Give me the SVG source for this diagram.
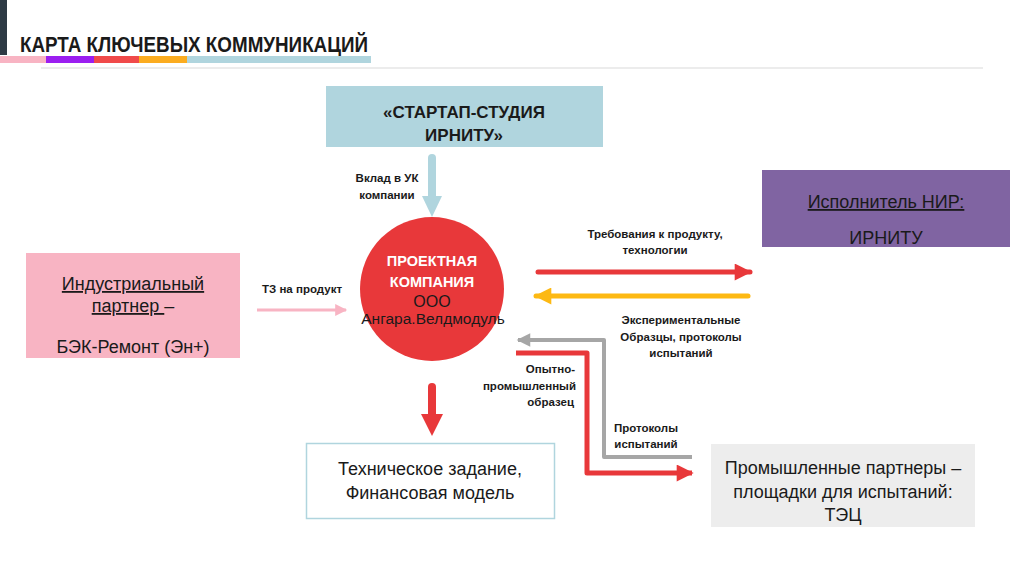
<svg xmlns="http://www.w3.org/2000/svg" width="1024" height="574" viewBox="0 0 1024 574">
<defs>
<style>
text{font-family:"Liberation Sans",Arial,sans-serif;fill:#1a1a1a}
.box{font-size:18px}
.lbl{font-size:11.5px;font-weight:bold}
.u{text-decoration:underline}
</style>
<marker id="mRed" viewBox="0 0 10 10" refX="9" refY="5" markerWidth="4" markerHeight="3.4" orient="auto" markerUnits="strokeWidth"><path d="M0,0 L10,5 L0,10 z" fill="#e8383a"/></marker>
<marker id="mYel" viewBox="0 0 10 10" refX="9" refY="5" markerWidth="4" markerHeight="3.4" orient="auto" markerUnits="strokeWidth"><path d="M0,0 L10,5 L0,10 z" fill="#fdb913"/></marker>
<marker id="mGray" viewBox="0 0 10 10" refX="9" refY="5" markerWidth="4" markerHeight="3.4" orient="auto" markerUnits="strokeWidth"><path d="M0,0 L10,5 L0,10 z" fill="#a6a6a6"/></marker>
<marker id="mPink" viewBox="0 0 10 10" refX="9" refY="5" markerWidth="4.5" markerHeight="4" orient="auto" markerUnits="strokeWidth"><path d="M0,0 L10,5 L0,10 z" fill="#f8b4c3"/></marker>
</defs>
<rect width="1024" height="574" fill="#ffffff"/>

<g id="header">
<rect x="0" y="0" width="7" height="55" fill="#2e3a44"/>
<text x="20" y="52" font-size="22" font-weight="bold" textLength="348" lengthAdjust="spacingAndGlyphs" fill="#111">КАРТА КЛЮЧЕВЫХ КОММУНИКАЦИЙ</text>
<rect x="0" y="56" width="46" height="7" fill="#f8b4c3"/>
<rect x="46" y="56" width="48" height="7" fill="#9b1ef0"/>
<rect x="94" y="56" width="45" height="7" fill="#f04a4a"/>
<rect x="139" y="56" width="48" height="7" fill="#fbac20"/>
<rect x="187" y="56" width="184" height="7" fill="#b0d5de"/>
<line x1="41" y1="68" x2="983" y2="68" stroke="#d9d9d9" stroke-width="1.2"/>
</g>

<g id="connectors">
<line x1="432" y1="158" x2="432" y2="198" stroke="#b0d5de" stroke-width="8" stroke-linecap="round"/>
<polygon points="422,196 442,196 432,217" fill="#b0d5de"/>
<line x1="257" y1="310" x2="346" y2="310" stroke="#f8b4c3" stroke-width="3" marker-end="url(#mPink)"/>
<line x1="538" y1="272" x2="750" y2="272" stroke="#e8383a" stroke-width="5" stroke-linecap="round" marker-end="url(#mRed)"/>
<line x1="748" y1="296" x2="536" y2="296" stroke="#fdb913" stroke-width="5" stroke-linecap="round" marker-end="url(#mYel)"/>
<path d="M692,457 H604 V340 H518" fill="none" stroke="#a6a6a6" stroke-width="4" stroke-linejoin="round" marker-end="url(#mGray)"/>
<path d="M516,353 H587 V473 H692" fill="none" stroke="#e8383a" stroke-width="5" stroke-linejoin="round" marker-end="url(#mRed)"/>
<line x1="432" y1="387" x2="432" y2="418" stroke="#e8383a" stroke-width="8" stroke-linecap="round"/>
<polygon points="421,414 443,414 432,436" fill="#e8383a"/>
<text class="lbl" x="387" y="182" text-anchor="middle">Вклад в УК</text>
<text class="lbl" x="387" y="199" text-anchor="middle">компании</text>
<text class="lbl" x="302" y="293" text-anchor="middle">ТЗ на продукт</text>
<text class="lbl" x="655" y="238" text-anchor="middle">Требования к продукту,</text>
<text class="lbl" x="655" y="254" text-anchor="middle">технологии</text>
<text class="lbl" x="681" y="324" text-anchor="middle">Экспериментальные</text>
<text class="lbl" x="681" y="341" text-anchor="middle">Образцы, протоколы</text>
<text class="lbl" x="681" y="357" text-anchor="middle">испытаний</text>
<text class="lbl" x="575" y="373" text-anchor="end">Опытно-</text>
<text class="lbl" x="576" y="390" text-anchor="end">промышленный</text>
<text class="lbl" x="574" y="406" text-anchor="end">образец</text>
<text class="lbl" x="646" y="432" text-anchor="middle">Протоколы</text>
<text class="lbl" x="646" y="448" text-anchor="middle">испытаний</text>
</g>

<g id="studio">
<rect x="326" y="86" width="277" height="61" fill="#b0d5de"/>
<text x="464" y="118" font-size="17" font-weight="bold" text-anchor="middle">«СТАРТАП-СТУДИЯ</text>
<text x="464" y="141" font-size="17" font-weight="bold" text-anchor="middle">ИРНИТУ»</text>
</g>

<g id="company">
<circle cx="432" cy="289" r="72" fill="#e8383a"/>
<text x="432" y="266" font-size="14.5" font-weight="bold" text-anchor="middle" style="fill:#fff">ПРОЕКТНАЯ</text>
<text x="432" y="287" font-size="14.5" font-weight="bold" text-anchor="middle" style="fill:#fff">КОМПАНИЯ</text>
<text x="432" y="307" font-size="16" text-anchor="middle">ООО</text>
<text x="433" y="324" font-size="15.5" text-anchor="middle">Ангара.Велдмодуль</text>
</g>

<g id="industrial">
<rect x="26" y="253" width="214" height="105" fill="#f8b4c3"/>
<text class="box u" x="133" y="290" text-anchor="middle">Индустриальный</text>
<text class="box" x="133" y="312" text-anchor="middle"><tspan class="u"> партнер </tspan>–</text>
<text class="box" x="133" y="353" text-anchor="middle">БЭК-Ремонт (Эн+)</text>
</g>

<g id="nir">
<rect x="762" y="170" width="248" height="77" fill="#8064a2"/>
<text class="box u" x="886" y="208" text-anchor="middle">Исполнитель НИР:</text>
<text class="box" x="886" y="244" text-anchor="middle">ИРНИТУ</text>
</g>

<g id="techtask">
<rect x="306.5" y="443.5" width="248" height="75" fill="#ffffff" stroke="#b0d5de" stroke-width="1.5"/>
<text class="box" x="430" y="475" text-anchor="middle">Техническое задание,</text>
<text class="box" x="430" y="499" text-anchor="middle">Финансовая модель</text>
</g>

<g id="partners">
<rect x="711" y="444" width="264" height="83" fill="#ededed"/>
<text class="box" x="843" y="474" text-anchor="middle">Промышленные партнеры –</text>
<text class="box" x="843" y="498" text-anchor="middle">площадки для испытаний:</text>
<text class="box" x="843" y="521" text-anchor="middle">ТЭЦ</text>
</g>
</svg>
